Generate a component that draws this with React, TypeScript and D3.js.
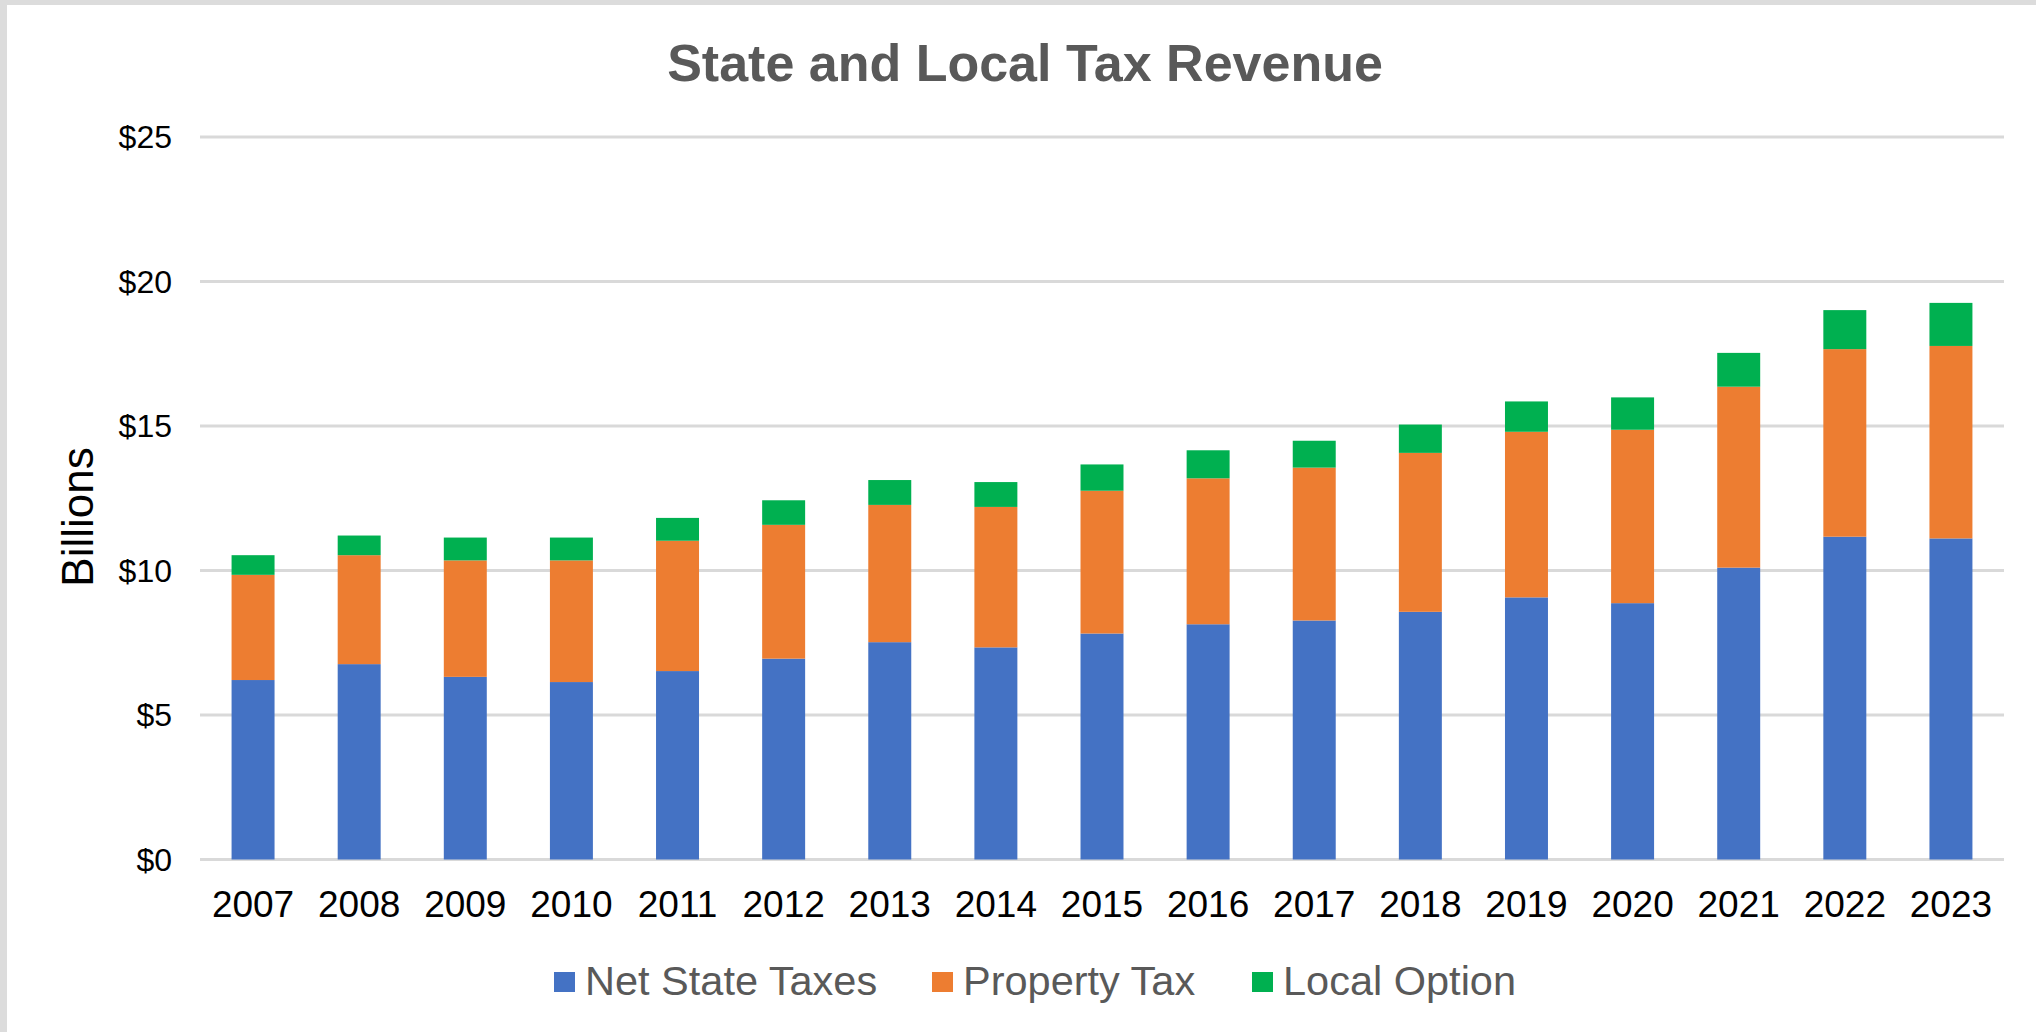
import React from 'react';
import * as d3 from 'd3';

// values in $ billions
const years = ['2007', '2008', '2009', '2010', '2011', '2012', '2013', '2014', '2015', '2016', '2017', '2018', '2019', '2020', '2021', '2022', '2023'];
const netStateTaxes = [6.21, 6.76, 6.32, 6.14, 6.52, 6.95, 7.52, 7.34, 7.82, 8.14, 8.27, 8.57, 9.07, 8.87, 10.1, 11.17, 11.11];
const propertyTax = [3.64, 3.77, 4.03, 4.21, 4.51, 4.63, 4.75, 4.86, 4.94, 5.05, 5.29, 5.5, 5.73, 6.0, 6.26, 6.49, 6.66];
const localOption = [0.68, 0.68, 0.79, 0.79, 0.79, 0.85, 0.86, 0.86, 0.91, 0.97, 0.93, 0.98, 1.05, 1.12, 1.17, 1.35, 1.49];
const yTicks = [0, 5, 10, 15, 20, 25];

const seriesNames = ['Net State Taxes', 'Property Tax', 'Local Option'];
const colors = ['#4472C4', '#ED7D31', '#00B050'];

const W = 2036;
const H = 1032;
const FONT = 'Liberation Sans, Arial, sans-serif';

export default function App() {
  const rows = years.map((y, i) => ({
    year: y,
    'Net State Taxes': netStateTaxes[i],
    'Property Tax': propertyTax[i],
    'Local Option': localOption[i],
  }));
  const stacked = d3.stack<any>().keys(seriesNames)(rows);

  const x = d3
    .scaleBand()
    .domain(years)
    .range([200, 2004])
    .paddingInner(0.595)
    .paddingOuter(0.2975);
  const y = d3.scaleLinear().domain([0, 25]).range([859.5, 137]);

  // legend layout
  const legendX = [554, 932, 1252];

  return (
    <svg
      width={W}
      height={H}
      style={{ position: 'absolute', left: 0, top: 0, background: '#fff' }}
      fontFamily={FONT}
    >
      <rect x={0} y={0} width={W} height={H} fill="#fff" />
      <rect x={0} y={0} width={7} height={H} fill="#dcdcdc" />
      <rect x={0} y={0} width={W} height={5} fill="#dcdcdc" />

      <text x={1025} y={81} textAnchor="middle" fontSize={52} fontWeight="bold" fill="#595959">
        State and Local Tax Revenue
      </text>

      {/* gridlines + y labels */}
      {yTicks.map((t) => (
        <g key={t}>
          <line x1={200} x2={2004} y1={y(t)} y2={y(t)} stroke="#d9d9d9" strokeWidth={3} />
          <text x={172} y={y(t)} dy="0.35em" textAnchor="end" fontSize={32} fill="#000">
            {'$' + t}
          </text>
        </g>
      ))}

      <text
        transform={`translate(93,517) rotate(-90)`}
        textAnchor="middle"
        fontSize={44}
        fill="#000"
      >
        Billions
      </text>

      {stacked.map((s, si) => (
        <g key={s.key} fill={colors[si]}>
          {s.map((d: any) => (
            <rect
              key={d.data.year}
              x={x(d.data.year)}
              y={y(d[1])}
              width={x.bandwidth()}
              height={y(d[0]) - y(d[1])}
            />
          ))}
        </g>
      ))}

      {years.map((yr) => (
        <text
          key={yr}
          x={(x(yr) as number) + x.bandwidth() / 2}
          y={917}
          textAnchor="middle"
          fontSize={37}
          fill="#000"
        >
          {yr}
        </text>
      ))}

      {seriesNames.map((n, i) => (
        <g key={n}>
          <rect x={legendX[i]} y={972} width={21} height={20} fill={colors[i]} />
          <text x={legendX[i] + 31} y={995} fontSize={41.5} fill="#595959">
            {n}
          </text>
        </g>
      ))}
    </svg>
  );
}
